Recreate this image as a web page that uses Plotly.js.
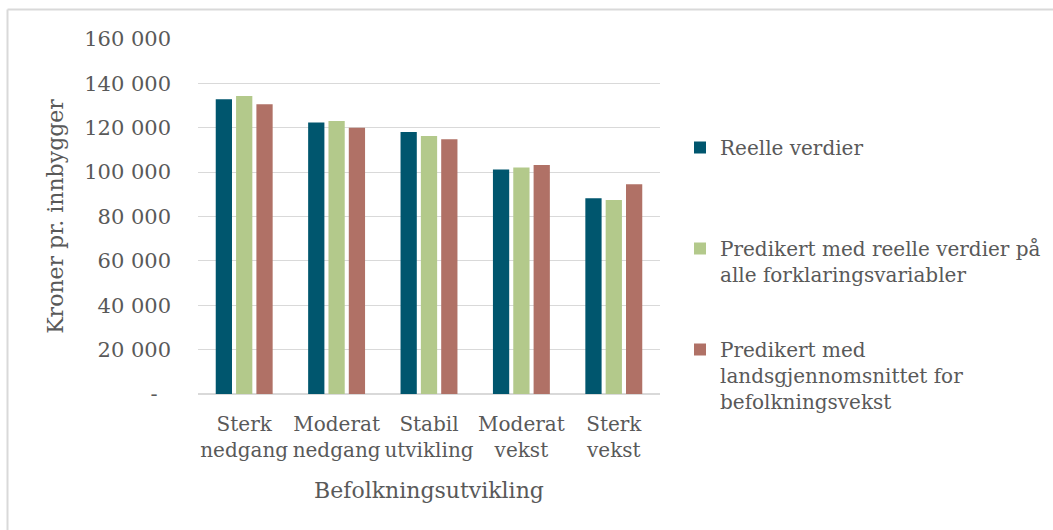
<!DOCTYPE html>
<html>
<head>
<meta charset="utf-8">
<script src="https://cdn.plot.ly/plotly-3.0.1.min.js"></script>
<style>
html,body{margin:0;padding:0;background:#fff;}
#chart{width:1053px;height:530px;}
</style>
</head>
<body>
<div id="chart"></div>
<script>
const categories = ["Sterk<br>nedgang", "Moderat<br>nedgang", "Stabil<br>utvikling", "Moderat<br>vekst", "Sterk<br>vekst"];
const reelleVerdier = [132800, 122400, 118100, 101200, 88200];
const predikertReelle = [134300, 123000, 116300, 102100, 87400];
const predikertLandsSnitt = [130600, 120000, 114800, 103200, 94500];
const seriesNames = [
  "Reelle verdier<br> ",
  "Predikert med reelle verdier på<br>alle forklaringsvariabler",
  "Predikert med<br>landsgjennomsnittet for<br>befolkningsvekst"
];
const yTickVals = [0, 20000, 40000, 60000, 80000, 100000, 120000, 140000, 160000];
const yTickText = ["-&nbsp;&nbsp;", "20 000", "40 000", "60 000", "80 000", "100 000", "120 000", "140 000", "160 000"];
const colors = ["#00566e", "#b3c98b", "#b07166"];

const fontFam = "DejaVu Serif, serif";
const txtCol = "#595959";

const seriesData = [reelleVerdier, predikertReelle, predikertLandsSnitt];
const traces = seriesData.map((vals, i) => ({
  type: "bar",
  x: categories,
  y: vals,
  name: seriesNames[i],
  legendgroup: "g" + i,
  marker: {color: colors[i]},
  hoverinfo: "y"
}));

const W = 1053, H = 530;
const L = 198, R = 660, T = 39, B = 394;
const pxX = px => (px - L) / (R - L);
const pxY = py => (B - py) / (B - T);

const layout = {
  width: W,
  height: H,
  margin: {l: L, r: W - R, t: T, b: H - B, autoexpand: false},
  paper_bgcolor: "#ffffff",
  plot_bgcolor: "#ffffff",
  barmode: "group",
  bargap: 0.34,
  bargroupgap: 0.2,
  font: {family: fontFam, color: txtCol, size: 21},
  xaxis: {
    tickfont: {family: fontFam, size: 20, color: txtCol},
    tickangle: 0,
    ticklabelstandoff: 16,
    title: {text: "Befolkningsutvikling", font: {family: fontFam, size: 22, color: txtCol}, standoff: 21},
    showgrid: false,
    showline: false,
    ticks: "",
    fixedrange: true
  },
  yaxis: {
    range: [0, 160000],
    tickvals: yTickVals,
    ticktext: yTickText,
    tickfont: {family: fontFam, size: 21, color: txtCol},
    ticklabelstandoff: 26,
    title: {text: "Kroner pr. innbygger", font: {family: fontFam, size: 22, color: txtCol}, standoff: 14},
    showgrid: true,
    gridcolor: "#d9d9d9",
    gridwidth: 1,
    zeroline: true,
    zerolinecolor: "#d9d9d9",
    zerolinewidth: 2,
    showline: false,
    ticks: "",
    fixedrange: true
  },
  legend: {
    x: pxX(680),
    xanchor: "left",
    y: pxY(128),
    yanchor: "top",
    traceorder: "grouped",
    tracegroupgap: 46,
    valign: "top",
    font: {family: fontFam, size: 20, color: txtCol},
    bgcolor: "rgba(0,0,0,0)"
  },
  shapes: [
    {type: "line", xref: "paper", yref: "paper", x0: pxX(7.5), x1: pxX(7.5), y0: pxY(9.5), y1: pxY(540), line: {color: "#d9d9d9", width: 2}},
    {type: "line", xref: "paper", yref: "paper", x0: pxX(7.5), x1: pxX(1060), y0: pxY(9.5), y1: pxY(9.5), line: {color: "#d9d9d9", width: 2}}
  ],
  showlegend: true
};

Plotly.newPlot("chart", traces, layout, {displayModeBar: false, staticPlot: true});
</script>
</body>
</html>
